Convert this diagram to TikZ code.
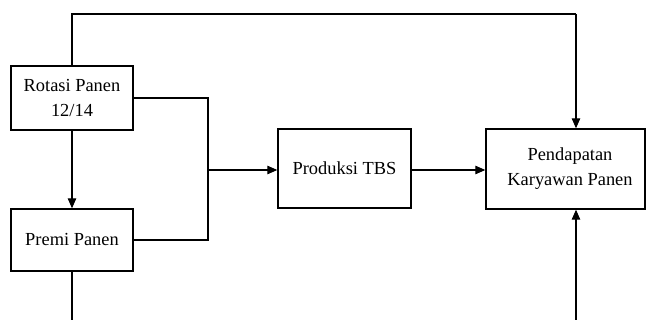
\documentclass[tikz,border=0pt]{standalone}
\usepackage{fontspec}
\setmainfont{Liberation Serif}
\usetikzlibrary{arrows.meta}
\begin{document}
\begin{tikzpicture}[x=1pt,y=-1pt,
  box/.style={draw,line width=1.4pt,inner sep=0pt,align=center,
    font=\fontsize{18.4}{25}\selectfont},
  conn/.style={line width=1.1pt},
  arr/.style={conn,-{Triangle[length=10pt,width=8.5pt]}}]
\useasboundingbox (0,0) rectangle (646,320);
\node[box,minimum width=122pt,minimum height=64pt] (rot) at (72,98) {Rotasi Panen\\12/14};
\node[box,minimum width=122pt,minimum height=62pt] (premi) at (72,240) {Premi Panen};
\node[box,minimum width=133pt,minimum height=79pt] (prod) at (344.5,168.5) {Produksi TBS};
\node[draw,line width=1.4pt,minimum width=159pt,minimum height=80pt,inner sep=0pt] (pend) at (565.5,169) {};
\node[box,draw=none] (pendtxt) at (570,169) {Pendapatan\\Karyawan Panen};
\coordinate (top1) at (72,14);
\coordinate (top2) at (576,14);
\coordinate (jr) at (208,170);
\coordinate (bl) at (72,321);
\coordinate (br) at (576,321);
\draw[conn] (rot.north) -- (top1) -- (top2);
\draw[arr] (top2) -- (pend.north -| top2);
\draw[conn] (rot.east) -- (rot.east -| jr) -- (premi.east -| jr) -- (premi.east);
\draw[arr] (jr) -- (prod.west |- jr);
\draw[arr] (rot.south) -- (premi.north);
\draw[arr] (prod.east |- jr) -- (pend.west |- jr);
\draw[conn] (premi.south) -- (bl);
\draw[arr] (br) -- (pend.south -| br);
\end{tikzpicture}
\end{document}
